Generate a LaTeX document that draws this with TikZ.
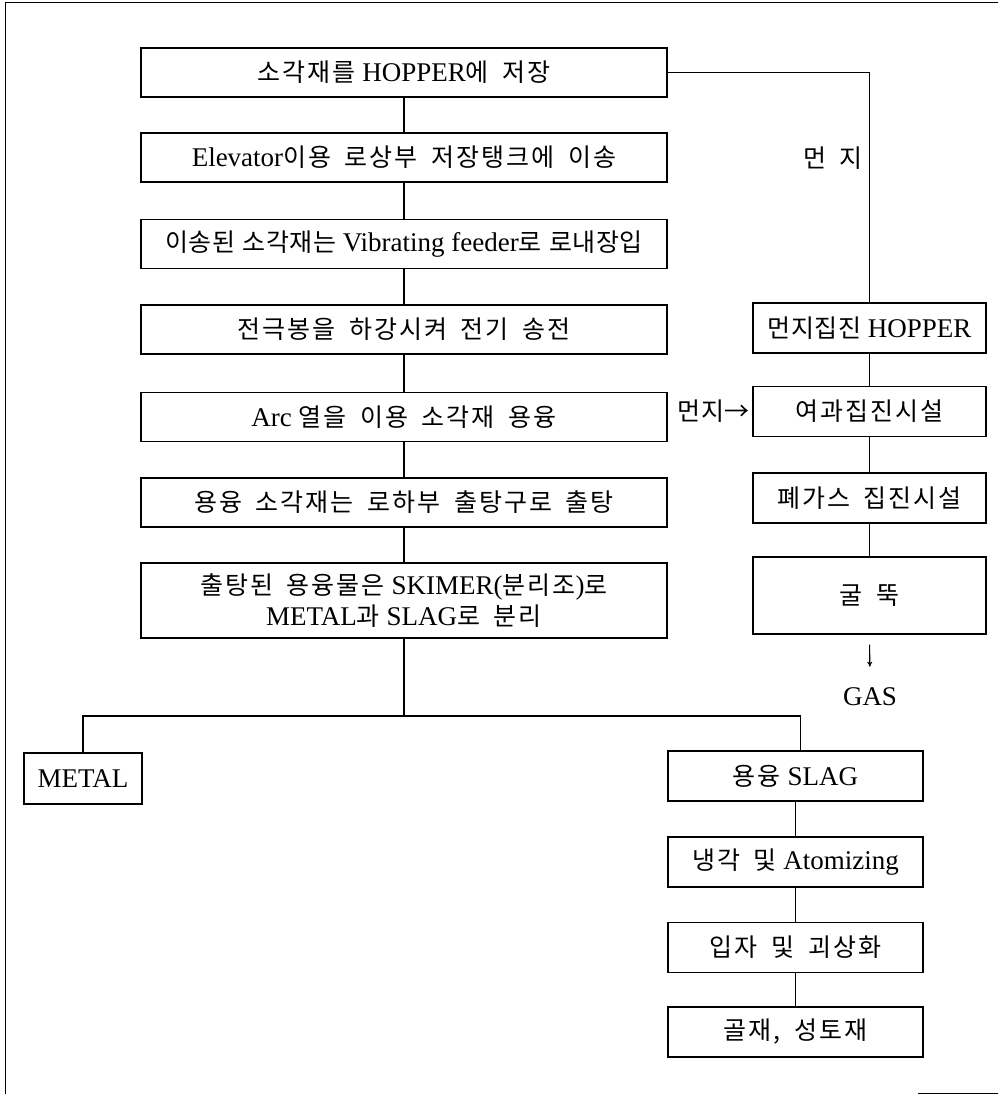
\documentclass[tikz,border=0pt]{standalone}
\usepackage{fontspec}
\setmainfont{Liberation Serif}[Scale=1.08]
\newfontfamily\krfont{Noto Sans CJK KR}[LetterSpace=8,WordSpace=1.8]
\newfontfamily\krtight{Noto Sans CJK KR}[LetterSpace=2,WordSpace=1.2]
\newcommand{\K}[1]{{\krfont #1}}
\newcommand{\Kt}[1]{{\krtight #1}}
\usetikzlibrary{arrows.meta}
\begin{document}
\begin{tikzpicture}[x=1pt,y=-1pt,
  box/.style={draw, line width=1.3pt, rectangle, inner sep=0pt, align=center, font=\fontsize{25}{31}\selectfont},
  mainbox/.style={box, minimum width=526pt, minimum height=49pt},
  rbox/.style={box, minimum width=233pt, minimum height=50pt},
  sbox/.style={box, minimum width=255pt, minimum height=50pt},
  conn/.style={line width=1.1pt},
  lbl/.style={font=\fontsize{25}{28}\selectfont, inner sep=0pt}]
\useasboundingbox (0,0) rectangle (998,1094);
% frame
\draw[line width=1pt] (998,3) -- (5,3) -- (5,1094);
\draw[line width=1pt] (918,1093) -- (998,1093);
% main column
\node[mainbox] (b1) at (404,72.5) {\K{소각재를} HOPPER\K{에 저장}};
\node[mainbox] (b2) at (404,157.5) {Elevator\K{이용 로상부 저장탱크에 이송}};
\node[mainbox] (b3) at (404,244) {\Kt{이송된 소각재는} Vibrating feeder\Kt{로 로내장입}};
\node[mainbox] (b4) at (404,329.5) {\K{전극봉을 하강시켜 전기 송전}};
\node[mainbox] (b5) at (404,417) {Arc \K{열을 이용 소각재 용융}};
\node[mainbox] (b6) at (404,502.5) {\K{용융 소각재는 로하부 출탕구로 출탕}};
\node[mainbox, minimum height=75pt] (b7) at (404,600.5) {\K{출탕된 용융물은} SKIMER(\K{분리조})\K{로}\\METAL\K{과} SLAG\K{로 분리}};
% right column
\node[rbox] (r1) at (869.5,328) {\Kt{먼지집진} HOPPER};
\node[rbox] (r2) at (869.5,411.5) {\K{여과집진시설}};
\node[rbox] (r3) at (869.5,498) {\K{폐가스 집진시설}};
\node[rbox, minimum height=77pt] (r4) at (869.5,595.5) {\K{굴 뚝}};
\node[lbl] (gas) at (870,697) {GAS};
% products
\node[box, minimum width=118pt, minimum height=51pt] (metal) at (83,778.5) {METAL};
\node[sbox] (s1) at (795.5,776) {\K{용융} SLAG};
\node[sbox] (s2) at (795.5,862) {\K{냉각 및} Atomizing};
\node[sbox] (s3) at (795.5,947.5) {\K{입자 및 괴상화}};
\node[sbox] (s4) at (795.5,1032) {\K{골재, 성토재}};
% labels
\node[lbl] (dust1) at (833,158) {\K{먼 지}};
\node[lbl, anchor=east] (dust2) at (750,411.5) {\Kt{먼지→}};
% connectors
\draw[conn] (b1) -- (b2);
\draw[conn] (b2) -- (b3);
\draw[conn] (b3) -- (b4);
\draw[conn] (b4) -- (b5);
\draw[conn] (b5) -- (b6);
\draw[conn] (b6) -- (b7);
\draw[conn] (b1.east) -| (r1.north);
\draw[conn] (r1) -- (r2);
\draw[conn] (r2) -- (r3);
\draw[conn] (r3) -- (r4);
\draw[conn, -{To[length=5pt,width=5pt]}, shorten <=10pt, shorten >=21pt] (r4.south) -- (gas.north);
\coordinate (split) at (404,716);
\draw[conn] (b7.south) -- (split);
\draw[conn] (split) -| (metal.north);
\draw[conn] (split) -| ([xshift=5pt]s1.north);
\draw[conn] (s1) -- (s2);
\draw[conn] (s2) -- (s3);
\draw[conn] (s3) -- (s4);
\end{tikzpicture}
\end{document}
